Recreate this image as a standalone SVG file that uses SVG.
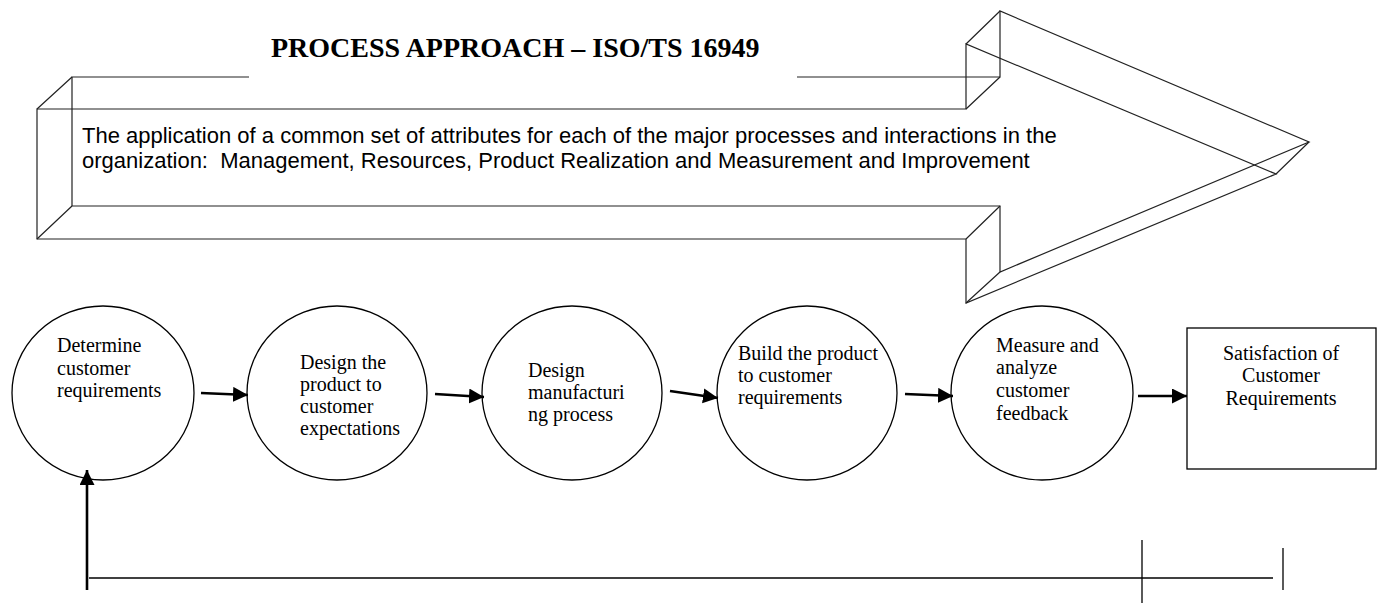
<svg xmlns="http://www.w3.org/2000/svg" width="1381" height="603" viewBox="0 0 1381 603">
<style>
.w{fill:none;stroke:#222;stroke-width:1.2}
.n{fill:#fff;stroke:#000;stroke-width:1.3}
.t{font-family:"Liberation Serif","Times New Roman",serif;font-size:20px;fill:#000}
.b{font-family:"Liberation Sans",Arial,sans-serif;font-size:22px;fill:#000}
.h{font-family:"Liberation Serif","Times New Roman",serif;font-size:28px;font-weight:bold;fill:#000}
.c{fill:none;stroke:#000;stroke-width:2.6}
.l{fill:none;stroke:#000;stroke-width:1.3}
</style>
<defs>
<marker id="ah" markerUnits="userSpaceOnUse" markerWidth="16" markerHeight="16" refX="15" refY="7.5" orient="auto">
<path d="M0,0 L15,7.5 L0,15 z" fill="#000"/>
</marker>
</defs>
<rect width="1381" height="603" fill="#fff"/>
<g id="banner">
<text class="h" x="271" y="57">PROCESS APPROACH – ISO/TS 16949</text>
<path class="w" d="M249,77 H72 V206 H1000 V272 L1309,142 L1000,11 V77 H797"/>
<path class="w" d="M37,109 H966 V44 L1276,174 L966,303 V239 H37 Z"/>
<path class="w" d="M37,109 L72,77 M37,239 L72,206 M966,109 L1000,77 M966,44 L1000,11 M1276,174 L1309,142 M966,303 L1000,272 M966,239 L1000,206"/>
<text class="b" x="82" y="143">The application of a common set of attributes for each of the major processes and interactions in the</text>
<text class="b" x="82" y="168" xml:space="preserve">organization:  Management, Resources, Product Realization and Measurement and Improvement</text>
</g>
<g id="n1">
<ellipse class="n" cx="103" cy="393" rx="91" ry="87"/>
<text class="t"><tspan x="57" y="352">Determine</tspan><tspan x="57" y="375">customer</tspan><tspan x="57" y="397">requirements</tspan></text>
</g>
<g id="n2">
<ellipse class="n" cx="337" cy="393" rx="90" ry="87"/>
<text class="t"><tspan x="300" y="369">Design the</tspan><tspan x="300" y="391">product to</tspan><tspan x="300" y="413">customer</tspan><tspan x="300" y="435">expectations</tspan></text>
</g>
<g id="n3">
<ellipse class="n" cx="572" cy="393" rx="90" ry="87"/>
<text class="t"><tspan x="528" y="377">Design</tspan><tspan x="528" y="399">manufacturi</tspan><tspan x="528" y="421">ng process</tspan></text>
</g>
<g id="n4">
<ellipse class="n" cx="807" cy="393" rx="90" ry="87"/>
<text class="t"><tspan x="738" y="360">Build the product</tspan><tspan x="738" y="382">to customer</tspan><tspan x="738" y="404">requirements</tspan></text>
</g>
<g id="n5">
<ellipse class="n" cx="1042" cy="393" rx="91" ry="87"/>
<text class="t"><tspan x="996" y="352">Measure and</tspan><tspan x="996" y="374">analyze</tspan><tspan x="996" y="397">customer</tspan><tspan x="996" y="420">feedback</tspan></text>
</g>
<g id="n6">
<rect class="n" x="1187" y="328" width="189" height="141"/>
<text class="t" text-anchor="middle"><tspan x="1281" y="360">Satisfaction of</tspan><tspan x="1281" y="382">Customer</tspan><tspan x="1281" y="405">Requirements</tspan></text>
</g>
<g id="connectors">
<path class="c" d="M201,393 L248,395" marker-end="url(#ah)"/>
<path class="c" d="M435,394 L484,397" marker-end="url(#ah)"/>
<path class="c" d="M670,391 L718,398" marker-end="url(#ah)"/>
<path class="c" d="M905,394 L953,396" marker-end="url(#ah)"/>
<path class="c" d="M1138,396 L1187,396" stroke-width="3.5" marker-end="url(#ah)"/>
<path class="c" d="M87,590 L87,470" stroke-width="3.5" marker-end="url(#ah)"/>
<path class="l" d="M89,578 H1273"/>
<path class="l" d="M1283,548 V590"/>
<path class="l" d="M1142,540 V603"/>
</g>
</svg>
